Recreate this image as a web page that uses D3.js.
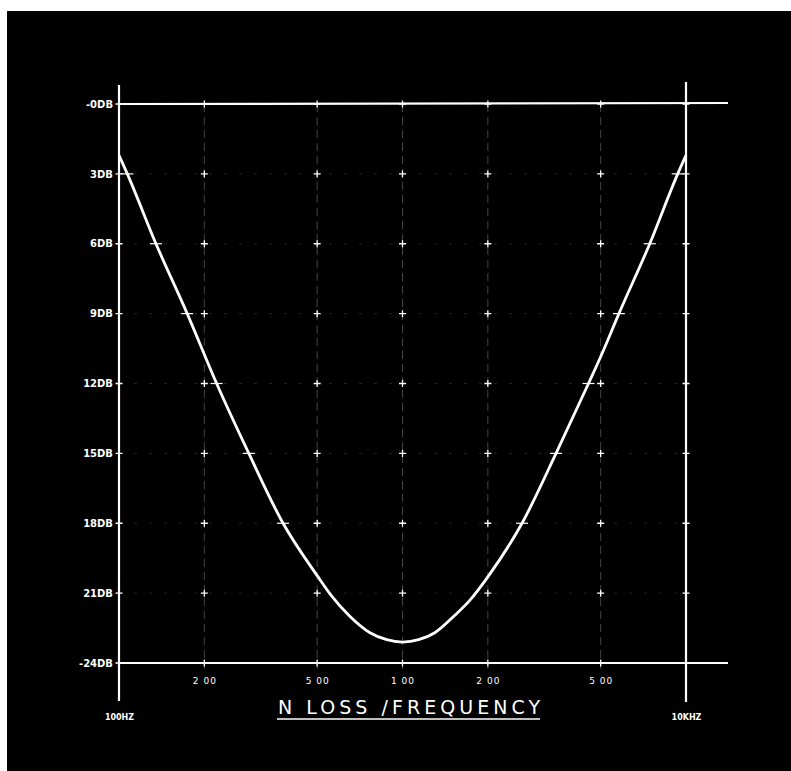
<!DOCTYPE html>
<html>
<head>
<meta charset="utf-8">
<script src="https://cdn.jsdelivr.net/npm/d3@7"></script>
<style>
  html, body { margin: 0; padding: 0; background: #fff; }
  svg { display: block; }
  text { font-family: "DejaVu Sans", "Liberation Sans", sans-serif; fill: #fff; }
</style>
</head>
<body>
<script>
// Insertion loss across the band, 100 Hz to 10 kHz (log frequency)
const freqs = [100, 107, 135, 174, 221, 287, 379, 500, 560, 653, 768, 880, 1000,
               1140, 1300, 1530, 1730, 2000, 2640, 3480, 4530, 5000, 5800, 7450, 9350, 10000];
const lossDb = [-2.2, -3.0, -6.0, -9.0, -12.0, -15.0, -18.0, -20.25, -21.1, -22.0, -22.7, -23.0, -23.1,
                -23.0, -22.7, -21.95, -21.3, -20.3, -18.0, -15.0, -12.0, -10.85, -9.0, -6.0, -3.0, -2.2];

// Level rows (dB) and their labels
const levelRows = [0, -3, -6, -9, -12, -15, -18, -21, -24];
const levelLabels = ["-0DB", "3DB", "6DB", "9DB", "12DB", "15DB", "18DB", "21DB", "-24DB"];

// Frequency grid columns and labels
const freqTicks = [200, 500, 1000, 2000, 5000];
const freqTickLabels = ["2 00", "5 00", "1 00", "2 00", "5 00"];
const freqEnds = [100, 10000];
const freqEndLabels = ["100HZ", "10KHZ"];
const titleText = "N LOSS /FREQUENCY";

const W = 791, H = 771;
const svg = d3.select("body").append("svg").attr("width", W).attr("height", H);

svg.append("rect").attr("x", 0).attr("y", 0).attr("width", W).attr("height", H).attr("fill", "#fff");
svg.append("rect").attr("x", 7).attr("y", 11).attr("width", W - 7).attr("height", H - 11).attr("fill", "#000");

const x = d3.scaleLog().domain([100, 10000]).range([119, 686]);
const y = d3.scaleLinear().domain([0, -24]).range([104, 663]);

// faint dashed grid
const grid = svg.append("g");
grid.selectAll("line.v").data(freqTicks).join("line")
  .attr("x1", d => x(d)).attr("x2", d => x(d))
  .attr("y1", y(0)).attr("y2", y(-24) + 6)
  .attr("stroke", "#aaa").attr("stroke-width", 1)
  .attr("stroke-dasharray", "8,5").attr("opacity", 0.4);
grid.selectAll("line.h").data(levelRows.slice(1, -1)).join("line")
  .attr("x1", x(100)).attr("x2", x(10000))
  .attr("y1", d => y(d)).attr("y2", d => y(d))
  .attr("stroke", "#888").attr("stroke-width", 1)
  .attr("stroke-dasharray", "3,12").attr("opacity", 0.25);

// "+" markers at grid intersections
const cross = [];
freqTicks.forEach(f => levelRows.forEach(l => cross.push([f, l])));
levelRows.forEach(l => { cross.push([100, l]); cross.push([10000, l]); });
const crosses = svg.append("g").attr("stroke", "#fff").attr("stroke-width", 1.3);
crosses.selectAll("path").data(cross).join("path")
  .attr("d", d => {
    const cx = x(d[0]), cy = y(d[1]);
    return `M${cx - 3.5},${cy}H${cx + 3.5}M${cx},${cy - 3.5}V${cy + 3.5}`;
  });

// frame lines
const frame = svg.append("g").attr("stroke", "#fff").attr("stroke-width", 2.2);
frame.append("line").attr("x1", x(100)).attr("x2", 728).attr("y1", y(0)).attr("y2", y(0) - 1);
frame.append("line").attr("x1", x(100) - 1).attr("x2", 728).attr("y1", y(-24)).attr("y2", y(-24));
frame.append("line").attr("x1", x(100)).attr("x2", x(100)).attr("y1", 85).attr("y2", 701);
frame.append("line").attr("x1", x(10000)).attr("x2", x(10000)).attr("y1", 82).attr("y2", 702);

// loss curve
const pts = freqs.map((f, i) => [f, lossDb[i]]);
svg.append("path").datum(pts)
  .attr("fill", "none").attr("stroke", "#fff").attr("stroke-width", 2.8)
  .attr("d", d3.line().x(d => x(d[0])).y(d => y(d[1])).curve(d3.curveMonotoneX));

// small ticks where the curve crosses each level row
const rowHits = pts.filter(p => levelRows.includes(p[1]));
svg.append("g").attr("stroke", "#fff").attr("stroke-width", 1.2)
  .selectAll("path").data(rowHits).join("path")
  .attr("d", d => `M${x(d[0]) - 6},${y(d[1])}H${x(d[0]) + 6}`);

// level axis labels
const yAxis = d3.axisLeft(y).tickValues(levelRows)
  .tickFormat((d, i) => levelLabels[i]).tickSize(0).tickPadding(6);
const yg = svg.append("g").attr("transform", `translate(${x(100)},0)`).call(yAxis);
yg.select(".domain").remove();
yg.selectAll("text").attr("fill", "#fff").style("font-size", "10px").style("font-weight", "bold")
  .attr("font-family", "Liberation Sans Narrow, Liberation Sans, sans-serif");

// frequency axis labels
const xAxis = d3.axisBottom(x).tickValues(freqTicks)
  .tickFormat((d, i) => freqTickLabels[i]).tickSize(0).tickPadding(15);
const xg = svg.append("g").attr("transform", `translate(0,${y(-24)})`).call(xAxis);
xg.select(".domain").remove();
xg.selectAll("text").attr("fill", "#fff").style("font-size", "9px").style("letter-spacing", "1px");

const endAxis = d3.axisBottom(x).tickValues(freqEnds)
  .tickFormat((d, i) => freqEndLabels[i]).tickSize(0).tickPadding(51);
const eg = svg.append("g").attr("transform", `translate(0,${y(-24)})`).call(endAxis);
eg.select(".domain").remove();
eg.selectAll("text").attr("fill", "#fff").style("font-size", "8px").style("font-weight", "bold")
  .attr("font-family", "Liberation Sans Narrow, Liberation Sans, sans-serif");

// title with underline
svg.append("text").attr("x", 278).attr("y", 714)
  .attr("textLength", 262).attr("lengthAdjust", "spacing")
  .style("font-size", "19px").style("font-weight", "normal")
  .text(titleText);
svg.append("line").attr("x1", 277).attr("x2", 540).attr("y1", 719).attr("y2", 719)
  .attr("stroke", "#fff").attr("stroke-width", 1.3);
</script>
</body>
</html>
